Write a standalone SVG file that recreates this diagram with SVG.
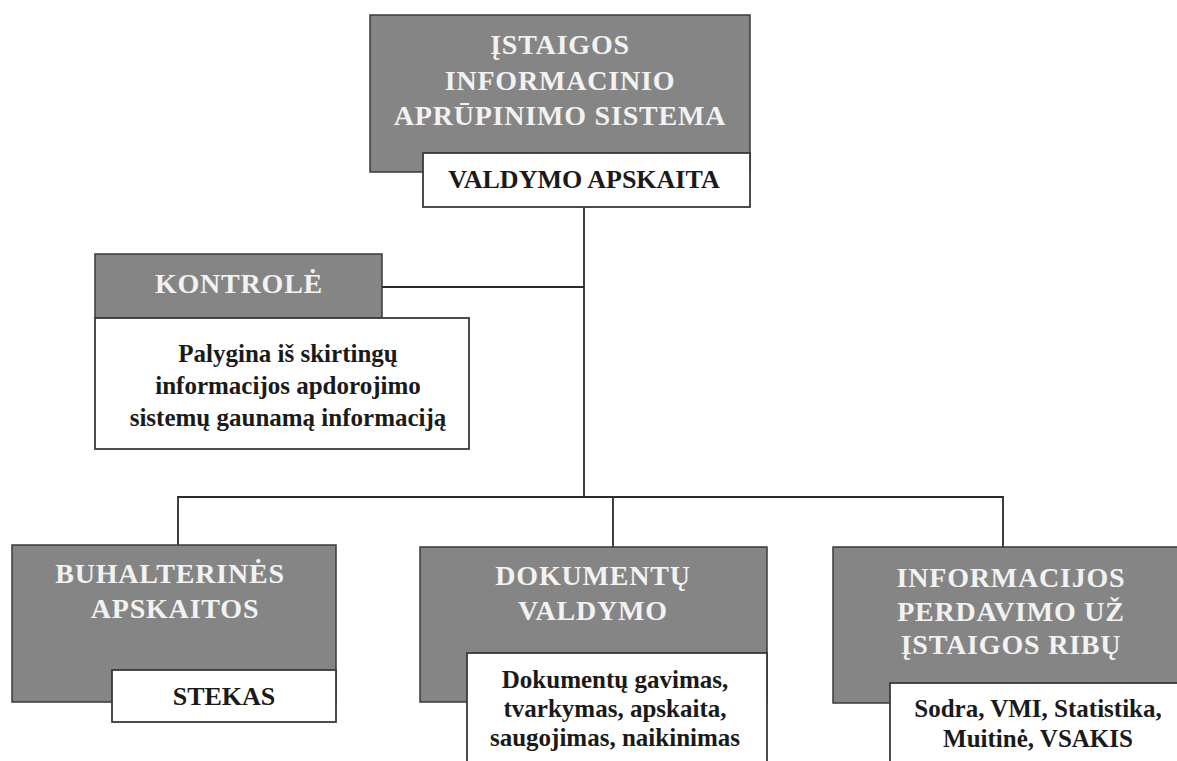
<svg xmlns="http://www.w3.org/2000/svg" width="1177" height="761" viewBox="0 0 1177 761">
<style>
.g{fill:#858585;stroke:#3a3a3a;stroke-width:1.5}
.w{fill:#ffffff;stroke:#3a3a3a;stroke-width:1.8}
.ht{font-family:"Liberation Serif","Times New Roman",serif;font-weight:bold;font-size:28px;fill:#f2f2f2;text-anchor:middle;letter-spacing:0.8px}
.wt{font-family:"Liberation Serif","Times New Roman",serif;font-weight:bold;font-size:26px;fill:#1a1a1a;text-anchor:middle}
.bt{font-family:"Liberation Serif","Times New Roman",serif;font-weight:bold;font-size:25px;fill:#1a1a1a;text-anchor:middle}
.c{fill:none;stroke:#2a2a2a;stroke-width:1.8}
</style>
<rect width="1177" height="761" fill="#ffffff"/>
<g id="connectors">
<path class="c" d="M584,207 V497"/>
<path class="c" d="M382,287 H584"/>
<path class="c" d="M178,545 V497 H1003 V547"/>
<path class="c" d="M613,497 V547"/>
</g>
<g id="top">
<rect class="g" x="370" y="15" width="380" height="157"/>
<text class="ht" x="560" y="54">ĮSTAIGOS</text>
<text class="ht" x="560" y="90">INFORMACINIO</text>
<text class="ht" x="560" y="125">APRŪPINIMO SISTEMA</text>
<rect class="w" x="423" y="153" width="327" height="54"/>
<text class="wt" x="584" y="188">VALDYMO APSKAITA</text>
</g>
<g id="kontrole">
<rect class="g" x="95" y="254" width="287" height="64"/>
<text class="ht" x="239" y="293">KONTROLĖ</text>
<rect class="w" x="95" y="318" width="374" height="131"/>
<text class="bt" x="288" y="362">Palygina iš skirtingų</text>
<text class="bt" x="288" y="394">informacijos apdorojimo</text>
<text class="bt" x="288" y="426">sistemų gaunamą informaciją</text>
</g>
<g id="buhalterines">
<rect class="g" x="12" y="545" width="324" height="157"/>
<text class="ht" x="170" y="583">BUHALTERINĖS</text>
<text class="ht" x="175" y="618">APSKAITOS</text>
<rect class="w" x="112" y="670" width="224" height="52"/>
<text class="wt" x="224" y="705">STEKAS</text>
</g>
<g id="dokumentu">
<rect class="g" x="420" y="547" width="347" height="155"/>
<text class="ht" x="593" y="585">DOKUMENTŲ</text>
<text class="ht" x="593" y="620">VALDYMO</text>
<rect class="w" x="467" y="653" width="300" height="120"/>
<text class="bt" x="615" y="688">Dokumentų gavimas,</text>
<text class="bt" x="615" y="717">tvarkymas, apskaita,</text>
<text class="bt" x="615" y="746">saugojimas, naikinimas</text>
</g>
<g id="informacijos">
<rect class="g" x="833" y="547" width="360" height="156"/>
<text class="ht" x="1011" y="587">INFORMACIJOS</text>
<text class="ht" x="1011" y="621">PERDAVIMO UŽ</text>
<text class="ht" x="1011" y="654">ĮSTAIGOS RIBŲ</text>
<rect class="w" x="890" y="683" width="300" height="90"/>
<text class="bt" x="1038" y="717">Sodra, VMI, Statistika,</text>
<text class="bt" x="1038" y="747">Muitinė, VSAKIS</text>
</g>
</svg>
